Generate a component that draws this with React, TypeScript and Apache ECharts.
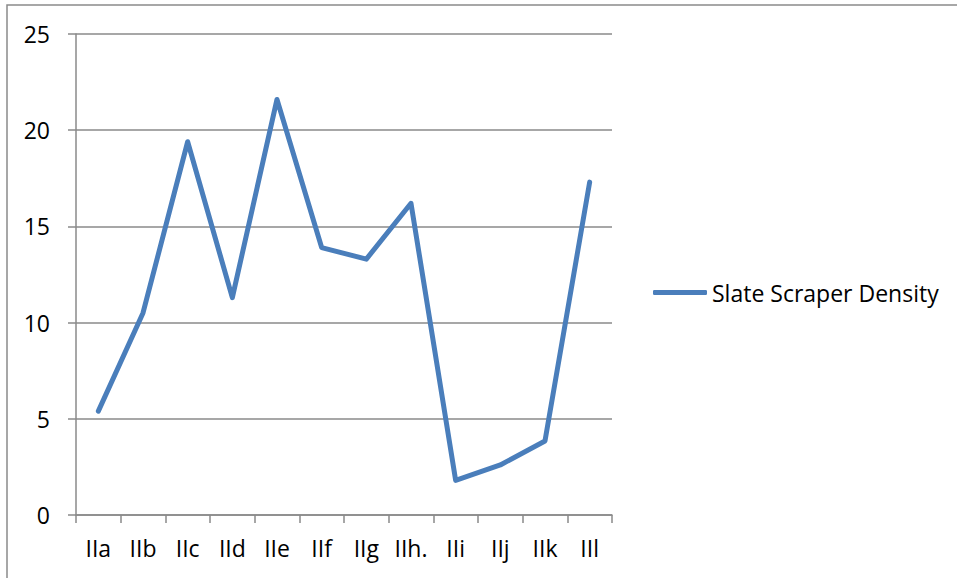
import React, { useEffect, useRef } from "react";
import * as echarts from "echarts";

const categories = ["IIa", "IIb", "IIc", "IId", "IIe", "IIf", "IIg", "IIh.", "IIi", "IIj", "IIk", "IIl"];
const densityValues = [5.4, 10.5, 19.4, 11.3, 21.6, 13.9, 13.3, 16.2, 1.8, 2.6, 3.85, 17.3];
const seriesName = "Slate Scraper Density";

const FONT = "'Open Sans', 'Noto Sans', sans-serif";
const AXIS_GRAY = "#8a8a8a";
const LINE_BLUE = "#4A7EBB";
const LABEL_SIZE = 23;

export default function App() {
  const ref = useRef<HTMLDivElement>(null);

  useEffect(() => {
    if (!ref.current) return;
    const chart = echarts.init(ref.current, null, { renderer: "svg" });
    chart.setOption({
      animation: false,
      backgroundColor: "#ffffff",
      textStyle: { fontFamily: FONT },
      graphic: [
        {
          type: "rect",
          shape: { x: 7, y: 5, width: 1000, height: 700 },
          style: { fill: "none", stroke: AXIS_GRAY, lineWidth: 1.5 },
          silent: true,
        },
      ],
      grid: { left: 76, right: 345, top: 34, bottom: 63, containLabel: false },
      legend: {
        left: 648,
        top: 276,
        icon: "roundRect",
        itemWidth: 54,
        itemHeight: 5,
        itemGap: 0,
        textStyle: { fontFamily: FONT, fontSize: LABEL_SIZE, color: "#000" },
        data: [seriesName],
      },
      xAxis: {
        type: "category",
        data: categories,
        boundaryGap: true,
        axisLine: { show: true, lineStyle: { color: AXIS_GRAY, width: 1.5 } },
        axisTick: { show: true, alignWithLabel: false, length: 8, lineStyle: { color: AXIS_GRAY, width: 1.5 } },
        axisLabel: { fontFamily: FONT, fontSize: LABEL_SIZE, color: "#000", margin: 21, interval: 0 },
        splitLine: { show: false },
      },
      yAxis: {
        type: "value",
        min: 0,
        max: 25,
        interval: 5,
        axisLine: { show: true, lineStyle: { color: AXIS_GRAY, width: 1.5 } },
        axisTick: { show: true, length: 8, lineStyle: { color: AXIS_GRAY, width: 1.5 } },
        axisLabel: { fontFamily: FONT, fontSize: LABEL_SIZE, color: "#000", margin: 26 },
        splitLine: { show: true, lineStyle: { color: AXIS_GRAY, width: 1.5 } },
      },
      series: [
        {
          name: seriesName,
          type: "line",
          data: densityValues,
          symbol: "none",
          showSymbol: false,
          itemStyle: { color: LINE_BLUE },
          lineStyle: { color: LINE_BLUE, width: 5, cap: "round", join: "round" },
        },
      ],
    });
    return () => chart.dispose();
  }, []);

  return (
    <div
      ref={ref}
      style={{ position: "fixed", left: 0, top: 0, width: 957, height: 578 }}
    />
  );
}
